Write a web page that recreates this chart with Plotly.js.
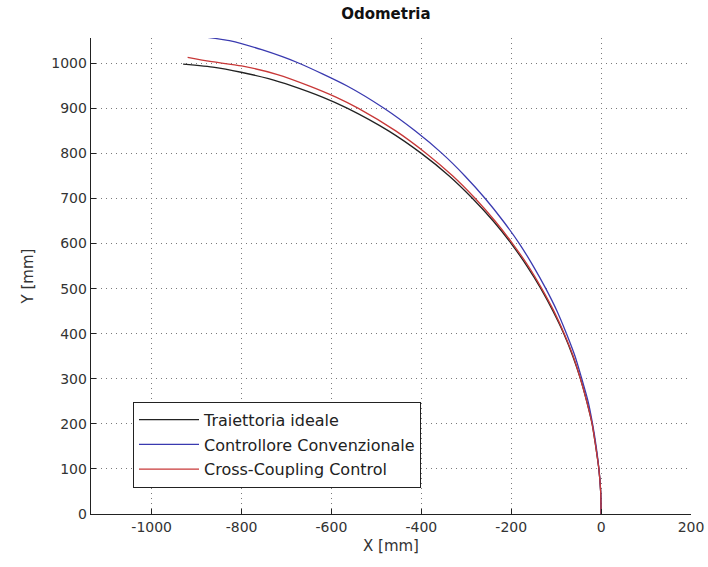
<!DOCTYPE html>
<html>
<head>
<meta charset="utf-8">
<script src="https://cdn.plot.ly/plotly-3.0.1.min.js"></script>
<style>html,body{margin:0;padding:0;background:#fff;}#chart{width:708px;height:567px;}</style>
</head>
<body>
<div id="chart"></div>
<script>
// Traiettoria ideale
var idealX = [0, -1, -5, -12, -20, -32, -46, -63, -83, -107, -134, -165, -200, -240, -286, -338, -400, -473, -564, -620, -688, -740, -801, -860, -930];
var idealY = [0, 50, 100, 150, 200, 250, 300, 350, 400, 450, 500, 550, 600, 650, 700, 750, 800, 850, 900, 925, 950, 966, 980, 991, 998];
// Controllore Convenzionale
var convX = [0, -1, -5, -11, -19, -29, -43, -58, -77, -98, -123, -151, -182, -218, -258, -303, -354, -414, -483, -566, -672, -755, -827, -880];
var convY = [0, 50, 100, 150, 200, 250, 300, 350, 400, 450, 500, 550, 600, 650, 700, 750, 800, 850, 900, 950, 1000, 1030, 1050, 1058];
// Cross-Coupling Control
var ccX = [0, -1, -5, -12, -20, -32, -46, -62, -82, -105, -132, -162, -197, -236, -280, -330, -389, -457, -540, -590, -650, -720, -800, -870, -920];
var ccY = [0, 50, 100, 150, 200, 250, 300, 350, 400, 450, 500, 550, 600, 650, 700, 750, 800, 850, 900, 925, 950, 975, 994, 1004, 1013];

var xTicks = [-1000, -800, -600, -400, -200, 0, 200];
var yTicks = [0, 100, 200, 300, 400, 500, 600, 700, 800, 900, 1000];

var names = ['Traiettoria ideale', 'Controllore Convenzionale', 'Cross-Coupling Control'];
var colors = ['#222222', '#3a3ab0', '#c83838'];

var traces = [
  {x: idealX, y: idealY},
  {x: convX, y: convY},
  {x: ccX, y: ccY}
].map(function (d, i) {
  return {
    x: d.x, y: d.y, type: 'scatter', mode: 'lines',
    name: names[i], legendgroup: 'g' + i,
    line: {color: colors[i], width: 1.3, shape: 'spline', smoothing: 0.6}
  };
});

var FAM = 'DejaVu Sans, Liberation Sans, Arial, sans-serif';
var tickFont = {family: FAM, size: 14, color: '#333'};
var titleFont = {family: FAM, size: 15, color: '#333'};
var layout = {
  width: 708, height: 567,
  paper_bgcolor: '#ffffff', plot_bgcolor: '#ffffff',
  margin: {l: 91, r: 17, t: 38, b: 53},
  title: {text: '<b>Odometria</b>', font: {family: FAM, size: 15, color: '#111'}, x: 0.545, xanchor: 'center', y: 0.975, yanchor: 'middle'},
  xaxis: {
    range: [-1135, 200], tickvals: xTicks, ticktext: xTicks.map(String),
    ticks: 'inside', ticklen: 5, tickcolor: '#222', showline: true, linecolor: '#222', linewidth: 1.3,
    showgrid: true, gridcolor: '#7a7a7a', griddash: '1px,4px', gridwidth: 1, zeroline: false,
    tickfont: tickFont, mirror: false,
    title: {text: 'X [mm]', font: titleFont, standoff: 6}
  },
  yaxis: {
    range: [0, 1056], tickvals: yTicks, ticktext: yTicks.map(String),
    ticks: 'inside', ticklen: 5, tickcolor: '#222', showline: true, linecolor: '#222', linewidth: 1.3,
    showgrid: true, gridcolor: '#7a7a7a', griddash: '1px,4px', gridwidth: 1, zeroline: false,
    tickfont: tickFont, mirror: false,
    title: {text: 'Y [mm]', font: titleFont, standoff: 14}
  },
  showlegend: true,
  legend: {
    x: 0.07, y: 0.236, xanchor: 'left', yanchor: 'top',
    bgcolor: '#ffffff', bordercolor: '#222', borderwidth: 1,
    font: {family: FAM, size: 16, color: '#222'},
    itemwidth: 60,
    tracegroupgap: 1
  }
};

Plotly.newPlot('chart', traces, layout, {displayModeBar: false, staticPlot: true});
</script>
</body>
</html>
